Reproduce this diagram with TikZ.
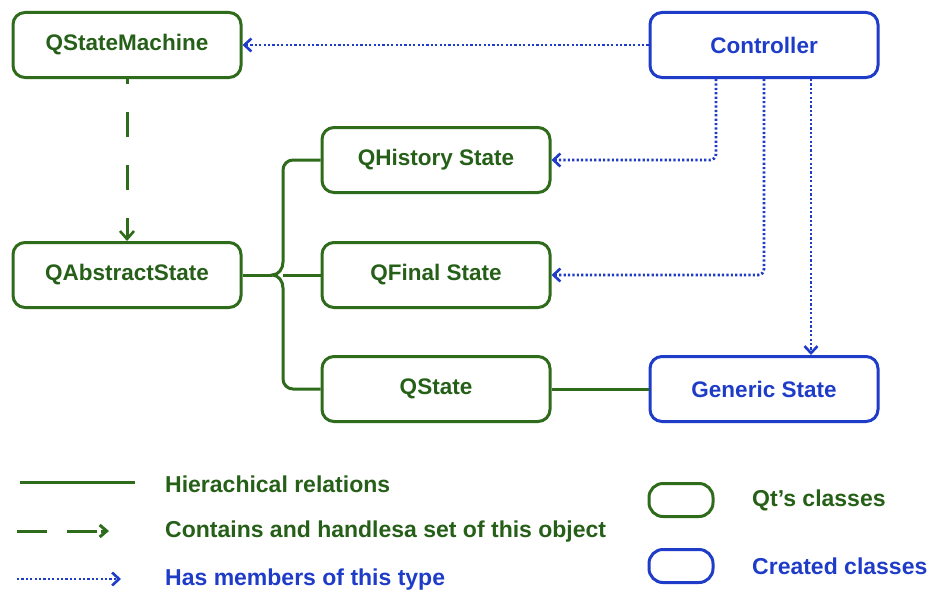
\documentclass[tikz,border=0pt]{standalone}
\usepackage{fontspec}
\setmainfont{Liberation Sans}
\usetikzlibrary{arrows.meta}
\definecolor{qtgreen}{RGB}{46,108,28}
\definecolor{qtgreentext}{RGB}{38,96,24}
\definecolor{ownblue}{RGB}{30,60,200}
\tikzset{
  lbl/.style={font=\bfseries\fontsize{22.5}{26}\selectfont},
  qtbox/.style={draw=qtgreen, line width=3pt, rounded corners=12pt,
    minimum width=228pt, minimum height=65pt, text=qtgreentext, lbl, fill=white},
  ownbox/.style={qtbox, draw=ownblue, text=ownblue},
  hier/.style={draw=qtgreen, line width=3pt},
  holds/.style={draw=qtgreen, line width=3pt, dash pattern=on 25pt off 28pt, dash phase=20pt,
    -{Straight Barb[length=8pt,width=14pt,line width=2.6pt]}},
  member/.style={draw=ownblue, line width=2.8pt, dash pattern=on 2.2pt off 2.2pt,
    rounded corners=6pt, -{Straight Barb[length=7pt,width=13pt,line width=2.6pt]}},
  legtext/.style={lbl, font=\bfseries\fontsize{23}{27}\selectfont, anchor=west, inner sep=0pt},
}
\begin{document}
\begin{tikzpicture}[x=1pt,y=-1pt]
\useasboundingbox[fill=white] (0,0) rectangle (928,594);

% classes
\node[qtbox]  (sm)   at (127,45)  {QStateMachine};
\node[ownbox] (ctrl) at (764,45)  {Controller};
\node[qtbox]  (hist) at (436,160) {QHistory State};
\node[qtbox]  (abs)  at (127,275) {QAbstractState};
\node[qtbox]  (fin)  at (436,275) {QFinal State};
\node[qtbox]  (qst)  at (436,389) {QState};
\node[ownbox] (gen)  at (764,389) {Generic State};

% hierarchical brace from QAbstractState
\coordinate (tip) at (272,275);
\coordinate (spine) at (283,275);
\draw[hier] (abs.east) -- (tip);
\draw[hier] (hist.west) -- (293,160) to[out=180,in=90] (283,170) -- (283,262)
  to[out=-90,in=0] (tip) to[out=0,in=90] (283,288) -- (283,379)
  to[out=-90,in=180] (293,389) -- (qst.west);
\draw[hier] (spine) -- (fin.west);
\draw[hier] (qst.east) -- (gen.west);

% containment
\draw[holds] (sm.south) -- (abs.north);

% members of the controller
\coordinate (m1) at (716,160);
\coordinate (m2) at (764,275);
\coordinate (m3) at (811,0);
\draw[member] (ctrl.west) -- (sm.east);
\draw[member] (ctrl.south -| m1) -- (m1) -- (hist.east);
\draw[member] (ctrl.south -| m2) -- (m2) -- (fin.east);
\draw[member] (ctrl.south -| m3) -- (gen.north -| m3);

% legend: connectors
\coordinate (l1a) at (20,482);  \coordinate (l1b) at (135,482);
\coordinate (l2a) at (17,531);  \coordinate (l2m) at (97,531);
\coordinate (l2t) at (101,531); \coordinate (l2b) at (109,531);
\coordinate (l3a) at (17,579);  \coordinate (l3b) at (121,579);
\draw[hier] (l1a) -- (l1b);
\draw[hier, dash pattern=on 30pt off 20pt] (l2a) -- (l2m);
\draw[hier, -{Straight Barb[length=7pt,width=12pt,line width=3pt]}, shorten <=0pt] (l2t) -- (l2b);
\draw[member] (l3a) -- (l3b);
\node[legtext, text=qtgreentext] (t1) at (165,484) {Hierachical relations};
\node[legtext, text=qtgreentext] (t2) at (165,532) {Contains and handlesa set of this object};
\node[legtext, text=ownblue]     (t3) at (165,580) {Has members of this type};

% legend: box kinds
\node[draw=qtgreen, line width=3pt, rounded corners=14pt, minimum width=64pt, minimum height=33pt] (k1) at (681,500) {};
\node[draw=ownblue, line width=3pt, rounded corners=14pt, minimum width=64pt, minimum height=33pt] (k2) at (681,566) {};
\node[legtext, text=qtgreentext] (t4) at (752,500) {Qt's classes};
\node[legtext, text=ownblue]     (t5) at (752,566) {Created classes};
\end{tikzpicture}
\end{document}
